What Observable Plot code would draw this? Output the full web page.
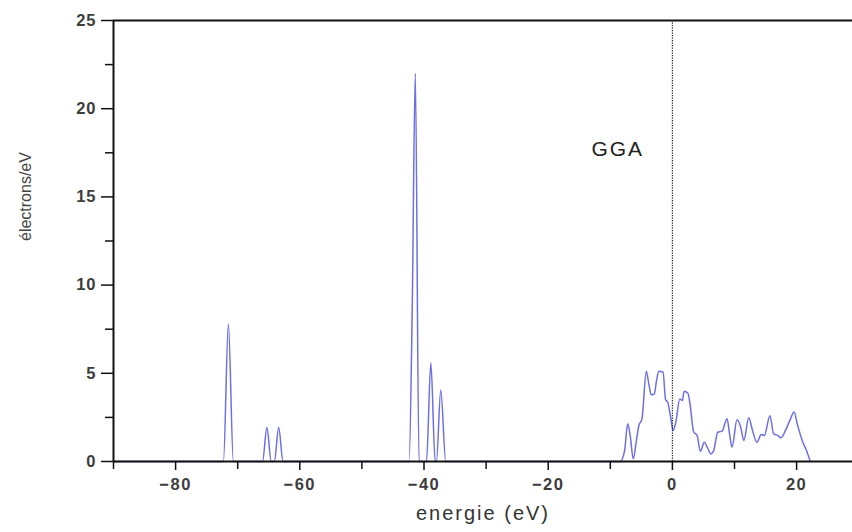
<!DOCTYPE html>
<html><head><meta charset="utf-8">
<script src="https://cdn.jsdelivr.net/npm/d3@7"></script>
<script src="https://cdn.jsdelivr.net/npm/@observablehq/plot@0.6"></script>
<style>html,body{margin:0;padding:0;background:#fff;} svg{display:block}</style>
</head><body><div id="chart"></div>
<script>
// Density of states (electrons/eV) vs energy (eV)
const energy = [
  -90, -72.3, -71.5, -70.7,
  -66.0, -65.3, -64.6, -64.1, -63.4, -62.7,
  -42.4, -41.9, -41.4, -40.8,
  -39.6, -38.9, -38.2, -38.0, -37.3, -36.5,
  -8.4, -7.7, -7.2, -6.8, -6.3, -5.8, -5.4, -4.9, -4.2, -3.8, -3.4, -2.9, -2.6, -2.2, -1.5,
  -1.1, -0.75, -0.2, 0.1, 0.5, 1.2, 1.6, 1.9, 2.5, 2.9, 3.4, 4.0, 4.5, 5.15, 5.6, 6.2, 6.65,
  7.3, 8.0, 8.8, 9.2, 9.6, 10.4, 11.0, 11.5, 12.3, 12.9, 13.6, 14.3, 14.8, 15.7, 16.3, 17.0,
  17.5, 18.2, 18.9, 19.6, 20.1, 20.9, 21.7, 22.2
];
const dos = [
  0, 0, 7.8, 0,
  0, 1.93, 0, 0, 1.93, 0,
  0, 8.6, 22.0, 0,
  0, 5.6, 0, 0, 4.05, 0,
  0, 0.62, 2.14, 1.47, 0.15, 1.19, 2.04, 2.42, 5.12, 4.4, 3.78, 3.84, 4.5, 5.12, 5.06,
  3.5, 3.36, 2.32, 1.76, 2.14, 3.55, 3.46, 3.98, 3.87, 3.08, 1.7, 1.45, 0.58, 1.09, 0.81, 0.43, 0.62,
  1.66, 1.72, 2.42, 1.57, 0.81, 2.36, 1.94, 1.19, 2.48, 1.76, 1.09, 1.53, 1.47, 2.6, 1.57, 1.47,
  1.34, 1.76, 2.32, 2.8, 2.14, 1.19, 0.53, 0
];
const xMajorTicks = [-80, -60, -40, -20, 0, 20];
const xMinorTicks = [-90, -70, -50, -30, -10, 10];
const yMajorTicks = [0, 5, 10, 15, 20, 25];
const yMinorTicks = [2.5, 7.5, 12.5, 17.5, 22.5];
const fermiLevel = [0];
const annotationText = ["GGA"];
const annotationX = [-8.8];
const annotationY = [17.7];
const xLabel = ["energie (eV)"];
const yLabel = ["électrons/eV"];

const data = energy.map((e, i) => ({e, d: dos[i]}));
const notes = annotationText.map((t, i) => ({t, x: annotationX[i], y: annotationY[i]}));

const chart = Plot.plot({
  width: 852, height: 532,
  marginLeft: 113, marginRight: 0, marginTop: 20, marginBottom: 71,
  x: {domain: [-90, 29]},
  y: {domain: [0, 25]},
  style: {fontFamily: "'Liberation Sans', Arial, sans-serif", background: "#fff"},
  marks: [
    Plot.line(data, {x: "e", y: "d", stroke: "#6d6fe6", strokeWidth: 1.5, curve: "monotone-x"}),
    Plot.ruleX(fermiLevel, {stroke: "#222", strokeWidth: 1.2, strokeDasharray: "1.2,1.3"}),
    Plot.ruleY([0], {stroke: "#111", strokeWidth: 2}),
    Plot.ruleY([25], {stroke: "#111", strokeWidth: 2}),
    Plot.ruleX([-90], {stroke: "#111", strokeWidth: 2}),
    Plot.axisX(xMajorTicks, {tickSize: 9, tickPadding: 8, fontSize: 16.5, fontWeight: "bold", fill: "#3d3d3d", stroke: "#111", strokeWidth: 1.5, label: null}),
    Plot.axisX(xMinorTicks, {tickSize: 8, tickFormat: () => "", stroke: "#111", strokeWidth: 1.5, label: null}),
    Plot.axisY(yMajorTicks, {tickSize: 12, tickPadding: 5, fontSize: 16.5, fontWeight: "bold", fill: "#3d3d3d", stroke: "#111", strokeWidth: 1.5, label: null}),
    Plot.axisY(yMinorTicks, {tickSize: 8, tickFormat: () => "", stroke: "#111", strokeWidth: 1.5, label: null}),
    Plot.text(notes, {x: "x", y: "y", text: "t", fontSize: 21, fill: "#222"}),
    Plot.text(xLabel, {frameAnchor: "bottom", dy: 58, fontSize: 20, fill: "#333"}),
    Plot.text(yLabel, {frameAnchor: "left", dx: -88, rotate: -90, fontSize: 16, fill: "#444"})
  ]
});
const sel = d3.select(chart);
sel.selectAll('g[aria-label="x-axis tick label"] text').style("letter-spacing", "1.5px");
sel.selectAll('g[aria-label="y-axis tick label"] text').style("letter-spacing", "1px");
sel.selectAll('text').filter(function(){ return annotationText.includes(this.textContent); }).style("letter-spacing", "2px");
sel.selectAll('text').filter(function(){ return xLabel.includes(this.textContent); }).style("letter-spacing", "2px");
document.getElementById("chart").append(chart);
</script>
</body></html>
